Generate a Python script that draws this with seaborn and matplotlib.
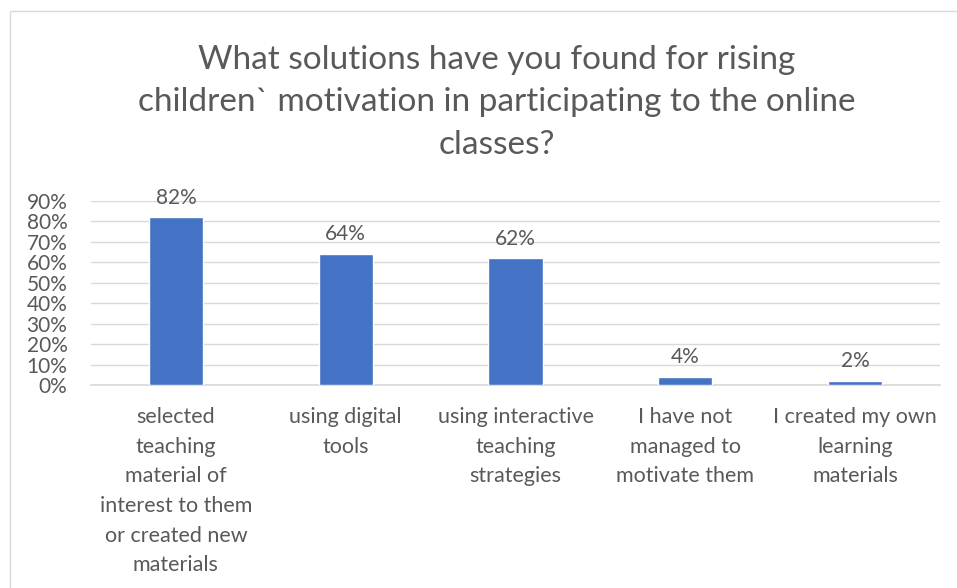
import matplotlib
matplotlib.use("Agg")
import matplotlib.pyplot as plt
import seaborn as sns
import pandas as pd
from matplotlib.patches import Rectangle

# chart data
categories = [
    "selected\nteaching\nmaterial of\ninterest to them\nor created new\nmaterials",
    "using digital\ntools",
    "using interactive\nteaching\nstrategies",
    "I have not\nmanaged to\nmotivate them",
    "I created my own\nlearning\nmaterials",
]
shares = [0.82, 0.64, 0.62, 0.04, 0.02]
y_ticks = [0.0, 0.1, 0.2, 0.3, 0.4, 0.5, 0.6, 0.7, 0.8, 0.9]

title = ("What solutions have you found for rising\n"
         "children` motivation in participating to the online\n"
         "classes?")

sns.set_theme(style="white")
plt.rcParams['font.family'] = ['Lato', 'DejaVu Sans']
grey = "#595959"

df = pd.DataFrame({"cat": categories, "share": shares})

fig = plt.figure(figsize=(9.57, 5.88), dpi=100)
ax = fig.add_axes([91 / 957, 1 - 385 / 588, 849 / 957, 184 / 588])

sns.barplot(data=df, x="cat", y="share", color="#4472C4", saturation=1,
            width=0.32, ax=ax, zorder=3)

ax.set_ylim(0, 0.9)
ax.set_xlim(-0.5, len(categories) - 0.5)
ax.set_yticks(y_ticks)
ax.set_yticklabels([f"{int(round(t * 100))}%" for t in y_ticks])
ax.yaxis.grid(True, color="#D9D9D9", linewidth=1, zorder=0)
for s in ax.spines.values():
    s.set_visible(False)
ax.spines["bottom"].set_visible(True)
ax.spines["bottom"].set_color("#D9D9D9")
ax.tick_params(axis="y", length=0, pad=17, labelsize=15, labelcolor=grey)
ax.tick_params(axis="x", length=0, pad=16, labelsize=15.5, labelcolor=grey)
for lbl in ax.get_xticklabels():
    lbl.set_linespacing(1.6)
ax.set_xlabel("")
ax.set_ylabel("")

for p, v in zip(ax.patches, shares):
    ax.annotate(f"{int(round(v * 100))}%",
                (p.get_x() + p.get_width() / 2, p.get_height()),
                xytext=(0, 7), textcoords="offset points",
                ha="center", va="bottom", fontsize=15, color=grey)

fig.text(497 / 957, 1 - 45 / 588, title, ha="center", va="top",
         fontsize=24, color=grey, linespacing=1.52)

# chart area border
fig.patches.append(Rectangle((10 / 957, -0.1), 1.2, 1.1 - 11 / 588,
                             transform=fig.transFigure, fill=False,
                             edgecolor="#D9D9D9", linewidth=1))

fig.savefig("out.png", dpi=100)
